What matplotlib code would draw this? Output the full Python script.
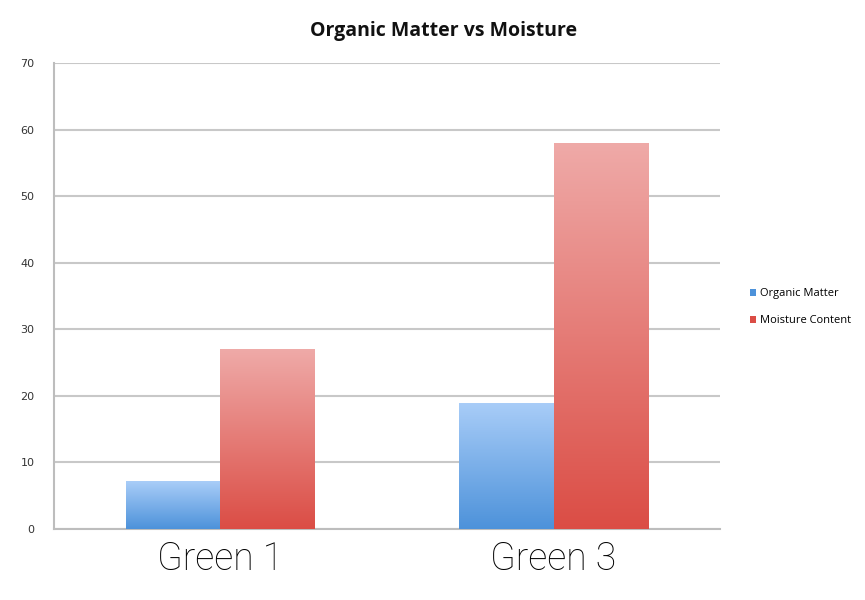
import numpy as np
import matplotlib.pyplot as plt
from matplotlib.colors import LinearSegmentedColormap
from matplotlib.patches import Patch

# Data
categories = ['Green 1', 'Green 3']
organic_matter = [7.2, 19.0]
moisture_content = [27.0, 58.0]
series_names = ['Organic Matter', 'Moisture Content']

blue_top, blue_bottom = '#a9cdf8', '#4d92da'
red_top, red_bottom = '#efaaa8', '#db4d45'

fig = plt.figure(figsize=(8.65, 6), dpi=100)
ax = fig.add_axes([0.0624, 0.1183, 0.7700, 0.7767])

x = np.arange(len(categories))
w = 0.285
bars_om = ax.bar(x - w / 2, organic_matter, w, color='none', zorder=3)
bars_mc = ax.bar(x + w / 2, moisture_content, w, color='none', zorder=3)


# gradient fill clipped to each bar
def fill_gradient(bars, top, bottom):
    cmap = LinearSegmentedColormap.from_list('g', [bottom, top])
    grad = np.linspace(0, 1, 256).reshape(-1, 1)
    for b in bars:
        x0, y0 = b.get_x(), b.get_y()
        x1, y1 = x0 + b.get_width(), y0 + b.get_height()
        im = ax.imshow(grad, cmap=cmap, origin='lower', aspect='auto',
                       extent=[x0, x1, y0, y1], zorder=3)
        im.set_clip_path(b)


fill_gradient(bars_om, blue_top, blue_bottom)
fill_gradient(bars_mc, red_top, red_bottom)

ax.set_xlim(-0.5, 1.5)
ax.set_ylim(0, 70)
ax.set_yticks(range(0, 71, 10))
ax.set_xticks(x)
ax.set_xticklabels(categories, fontsize=27, family='Roboto', fontweight='light',
                   color='#000000')
ax.tick_params(axis='both', length=0)
ax.tick_params(axis='y', labelsize=8, labelcolor='#333333', pad=14)
ax.tick_params(axis='x', pad=8)
ax.grid(axis='y', color='#c8c8c8', linewidth=1.5, zorder=0)
for s in ['top', 'right']:
    ax.spines[s].set_visible(False)
for s in ['left', 'bottom']:
    ax.spines[s].set_color('#bdbdbd')
    ax.spines[s].set_linewidth(1.5)

fig.text(0.513, 0.948, 'Organic Matter vs Moisture', ha='center', va='center',
         fontsize=14, fontweight='bold', family='Open Sans', color='#111111')

handles = [Patch(facecolor=blue_bottom), Patch(facecolor=red_bottom)]
fig.legend(handles, series_names, loc='center left', bbox_to_anchor=(0.855, 0.488),
           frameon=False, handlelength=0.6, handleheight=0.6,
           handletextpad=0.3, labelspacing=1.4,
           prop={'family': 'Open Sans', 'size': 8})

fig.savefig('out.png', dpi=100)
